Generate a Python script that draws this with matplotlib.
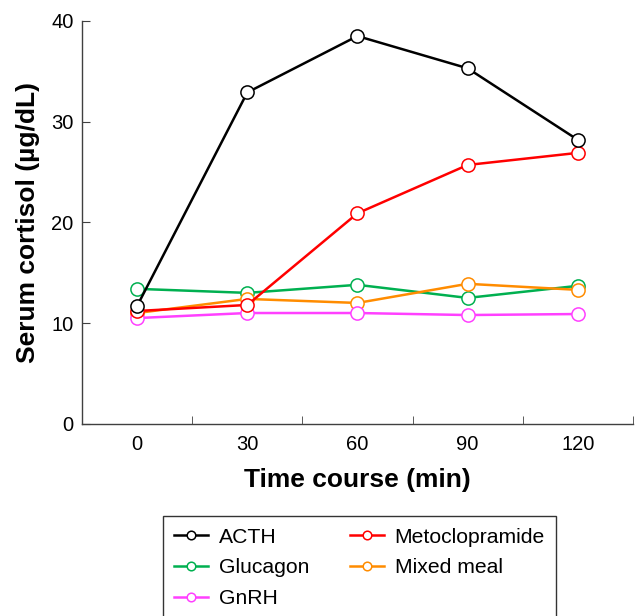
import matplotlib.pyplot as plt
import numpy as np

plt.rcParams["font.family"] = ["Liberation Sans", "DejaVu Sans"]

time_labels = ["0", "30", "60", "90", "120"]
acth = [11.7, 32.9, 38.5, 35.3, 28.2]
metoclopramide = [11.2, 11.8, 20.9, 25.7, 26.9]
glucagon = [13.4, 13.0, 13.8, 12.5, 13.7]
mixed_meal = [11.0, 12.4, 12.0, 13.9, 13.3]
gnrh = [10.5, 11.0, 11.0, 10.8, 10.9]

series = [
    ("ACTH", acth, "#000000"),
    ("Glucagon", glucagon, "#00b050"),
    ("GnRH", gnrh, "#ff40ff"),
    ("Metoclopramide", metoclopramide, "#ff0000"),
    ("Mixed meal", mixed_meal, "#ff8c00"),
]
draw_order = ["Glucagon", "Mixed meal", "GnRH", "Metoclopramide", "ACTH"]

fig = plt.figure(figsize=(6.36, 6.16), dpi=100)
ax = fig.add_axes([0.129, 0.312, 0.866, 0.654])

x = np.arange(len(time_labels))
handles = {}
for name, values, color in series:
    z = 3 + draw_order.index(name)
    (line,) = ax.plot(x, values, color=color, lw=1.8, marker="o", ms=9.5,
                      mfc="white", mec=color, mew=1.1, label=name, zorder=z)
    handles[name] = line

ax.set_xlim(-0.5, 4.5)
ax.set_ylim(0, 40)
ax.set_xticks(x)
ax.set_xticklabels(time_labels)
ax.set_xticks(x + 0.5, minor=True)
ax.tick_params(axis="x", which="major", length=0, pad=8, labelsize=14.5)
ax.tick_params(axis="x", which="minor", direction="in", length=6, color="#404040")
ax.set_yticks([0, 10, 20, 30, 40])
ax.tick_params(axis="y", direction="in", length=6, pad=6, labelsize=14.5, color="#404040")
for side in ["top", "right"]:
    ax.spines[side].set_visible(False)
for side in ["left", "bottom"]:
    ax.spines[side].set_color("#404040")
    ax.spines[side].set_linewidth(1.0)

ax.set_xlabel("Time course (min)", fontsize=19, fontweight="bold", labelpad=10)
ax.set_ylabel("Serum cortisol (µg/dL)", fontsize=19, fontweight="bold", labelpad=8)

fig.legend([handles[n] for n, _, _ in series], [n for n, _, _ in series],
           ncol=2, loc="upper left", bbox_to_anchor=(0.256, 0.162),
           borderaxespad=0, fontsize=15.2, markerscale=0.65, handlelength=1.6,
           handletextpad=0.5, frameon=True, fancybox=False, edgecolor="black",
           columnspacing=1.95, borderpad=0.55, labelspacing=0.55)

fig.savefig("out.png", dpi=100)
